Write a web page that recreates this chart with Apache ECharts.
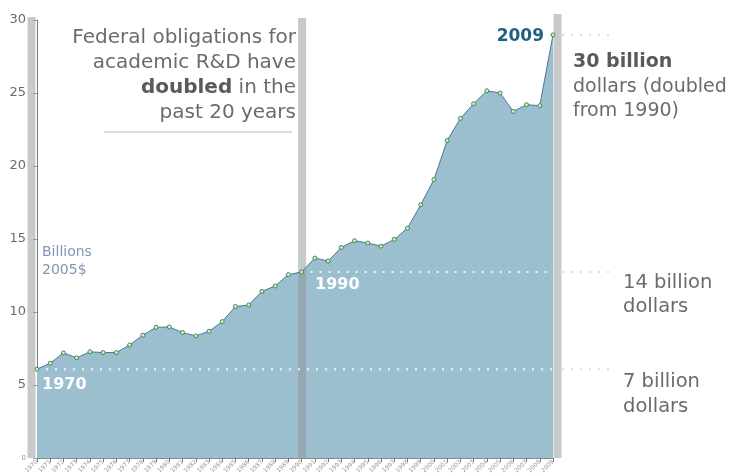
<!DOCTYPE html>
<html>
<head>
<meta charset="utf-8">
<script src="https://cdn.jsdelivr.net/npm/echarts@6/dist/echarts.min.js"></script>
<style>
  html, body { margin: 0; padding: 0; background: #fff; }
  #chart { width: 745px; height: 476px; }
</style>
</head>
<body>
<div id="chart"></div>
<script>
const years = [
  "1970", "1971", "1972", "1973", "1974", "1975", "1976", "1977", "1978", "1979",
  "1980", "1981", "1982", "1983", "1984", "1985", "1986", "1987", "1988", "1989",
  "1990", "1991", "1992", "1993", "1994", "1995", "1996", "1997", "1998", "1999",
  "2000", "2001", "2002", "2003", "2004", "2005", "2006", "2007", "2008", "2009"
];
// federal obligations, billions of 2005 dollars
const obligations = [
  6.08, 6.49, 7.2, 6.86, 7.27, 7.22, 7.22, 7.74, 8.41, 8.95,
  8.97, 8.59, 8.36, 8.68, 9.34, 10.37, 10.48, 11.41, 11.78, 12.56,
  12.74, 13.69, 13.49, 14.42, 14.88, 14.72, 14.51, 14.97, 15.74, 17.34,
  19.07, 21.74, 23.26, 24.26, 25.15, 25.0, 23.74, 24.2, 24.13, 28.98
];
const yTicks = [0, 5, 10, 15, 20, 25, 30];
// reference years marked by dotted lines and bands
const markYears = ["1970", "1990", "2009"];

const FONT = "'DejaVu Sans', sans-serif";
const GREY_TEXT = "#6b6b6b";
const BAND = "rgba(146,148,151,0.5)";

const chartDom = document.getElementById("chart");
const myChart = echarts.init(chartDom);

const option = {
  animation: false,
  grid: { left: 37, right: 192, top: 20, bottom: 17 },
  xAxis: {
    type: "category",
    data: years,
    boundaryGap: false,
    axisLine: { lineStyle: { color: "#8a8a8a", width: 1 } },
    axisTick: { show: true, length: 4, lineStyle: { color: "#777" } },
    axisLabel: {
      interval: 0,
      rotate: 45,
      fontSize: 6,
      color: "#999",
      margin: 3,
      fontFamily: FONT
    }
  },
  yAxis: {
    type: "value",
    min: yTicks[0],
    max: yTicks[yTicks.length - 1],
    interval: 5,
    splitLine: { show: false },
    axisLine: { show: true, lineStyle: { color: "#777", width: 1 } },
    axisTick: { show: true, length: 4, lineStyle: { color: "#999" } },
    axisLabel: {
      color: "#6b6b6b",
      fontSize: 13,
      margin: 11,
      fontFamily: FONT,
      formatter: function (v) {
        return v === 0 ? "{s|0}" : String(v);
      },
      rich: { s: { fontSize: 7, color: "#999", fontFamily: FONT } }
    }
  },
  series: [
    {
      name: "area",
      type: "line",
      z: 1,
      data: obligations,
      symbol: "none",
      lineStyle: { width: 0 },
      areaStyle: { color: "#9bbfce", opacity: 1 }
    },
    {
      name: "Federal obligations",
      type: "line",
      z: 6,
      data: obligations,
      symbol: "circle",
      symbolSize: 4,
      lineStyle: { color: "#4f7595", width: 1 },
      itemStyle: { color: "#d6ecd2", borderColor: "#3d8a4a", borderWidth: 1 }
    }
  ]
};

myChart.setOption(option);

// annotations anchored to the axes
const px = (yr, v) => myChart.convertToPixel({ gridIndex: 0 }, [yr, v]);
const base = px("1970", 0);
const topY = px("1970", 30)[1];
const extEnd = 613;
const graphics = [];

// grey bands at 1970 (left of axis), 1990 (centred), 2009 (right of point)
const p70 = px(markYears[0], 0);
const p90 = px(markYears[1], 0);
const p09 = px(markYears[2], 0);
graphics.push({ type: "rect", z: 3, shape: { x: p70[0] - 9.5, y: topY - 3, width: 8, height: base[1] - topY + 3 }, style: { fill: BAND } });
graphics.push({ type: "rect", z: 3, shape: { x: p90[0] - 3.5, y: topY - 2, width: 8, height: base[1] - topY + 2 }, style: { fill: BAND } });
graphics.push({ type: "rect", z: 3, shape: { x: p09[0] + 0.5, y: topY - 6, width: 8, height: base[1] - topY + 6 }, style: { fill: BAND } });

// dotted reference lines
const gridRight = p09[0];
markYears.forEach(function (yr) {
  const v = obligations[years.indexOf(yr)];
  const p = px(yr, v);
  if (yr !== "2009") {
    graphics.push({
      type: "line", z: 4,
      shape: { x1: p[0], y1: p[1], x2: gridRight, y2: p[1] },
      style: { stroke: "rgba(255,255,255,0.85)", lineWidth: 2, lineDash: [2, 7] }
    });
  }
  graphics.push({
    type: "line", z: 4,
    shape: { x1: gridRight + 9, y1: p[1], x2: extEnd, y2: p[1] },
    style: { stroke: "#dedede", lineWidth: 2, lineDash: [2, 7] }
  });
});

function txt(x, y, text, opts) {
  graphics.push({
    type: "text",
    z: 10,
    style: Object.assign({
      x: x, y: y, text: text,
      fontFamily: FONT, fontSize: 20, fill: GREY_TEXT,
      textAlign: "left", textVerticalAlign: "middle"
    }, opts || {})
  });
}

// headline block
txt(296, 38, "Federal obligations for", { textAlign: "right" });
txt(296, 63, "academic R&D have", { textAlign: "right" });
txt(296, 88, "{b|doubled} in the", {
  textAlign: "right",
  rich: { b: { fontWeight: "bold", fontFamily: FONT, fontSize: 20, fill: "#5a5a5a" } }
});
txt(296, 113, "past 20 years", { textAlign: "right" });
graphics.push({ type: "line", z: 10, shape: { x1: 104, y1: 132, x2: 292, y2: 132 }, style: { stroke: "#dddddd", lineWidth: 2 } });

// unit label
txt(42, 252, "Billions", { fontSize: 14, fill: "#8196b5" });
txt(42, 270, "2005$", { fontSize: 14, fill: "#8196b5" });

// year labels
txt(42, 385, "1970", { fontSize: 16, fontWeight: "bold", fill: "#ffffff" });
txt(315, 285, "1990", { fontSize: 16, fontWeight: "bold", fill: "#ffffff" });
txt(544, 37, "2009", { fontSize: 17, fontWeight: "bold", fill: "#1f5f80", textAlign: "right" });

// right-hand notes
txt(573, 62, "30 billion", { fontSize: 19, fontWeight: "bold", fill: "#5a5a5a" });
txt(573, 87, "dollars (doubled", { fontSize: 19 });
txt(573, 111, "from 1990)", { fontSize: 19 });
txt(623, 283, "14 billion", { fontSize: 19.5 });
txt(623, 307, "dollars", { fontSize: 19.5 });
txt(623, 382, "7 billion", { fontSize: 19.5 });
txt(623, 407, "dollars", { fontSize: 19.5 });

myChart.setOption({ graphic: { elements: graphics } });
</script>
</body>
</html>
